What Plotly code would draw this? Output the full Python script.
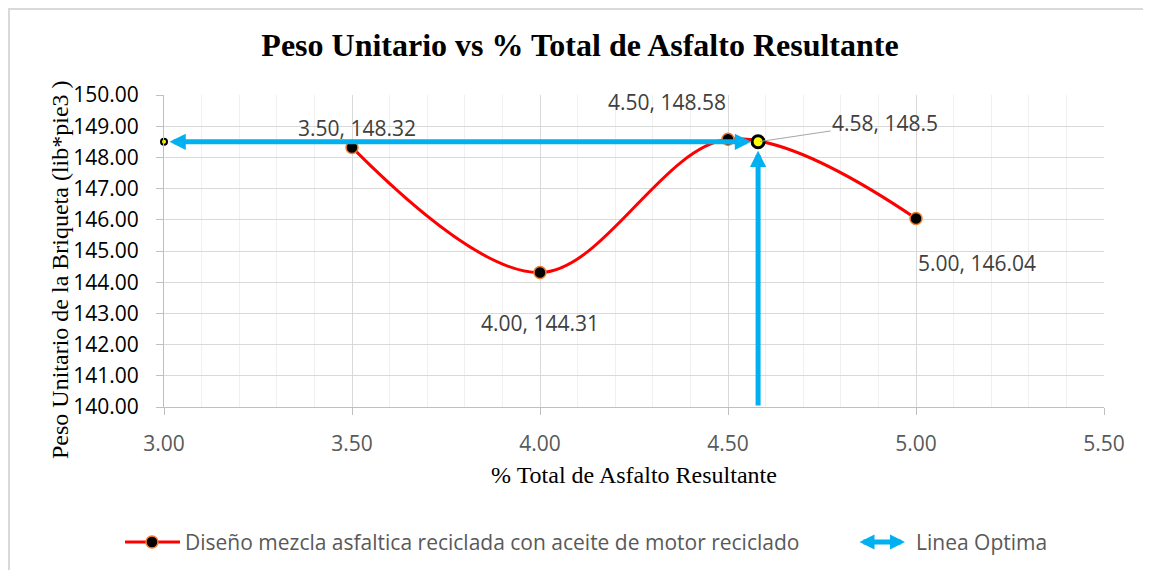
import plotly.graph_objects as go

# ---- data ----
asfalto_pct = [3.50, 4.00, 4.50, 5.00]
peso_unitario = [148.32, 144.31, 148.58, 146.04]
opt_x = 4.58
opt_y = 148.5
x_min, x_max = 3.00, 5.50
y_min, y_max = 140.00, 150.00
serie_name = "Diseño mezcla asfaltica reciclada con aceite de motor reciclado"
linea_name = "Linea Optima"
title_text = "Peso Unitario vs % Total de Asfalto Resultante"
x_title = "% Total de Asfalto Resultante"
y_title = "Peso Unitario de la Briqueta (lib*pie3 )"

# figure sits inside the page body (8px margin)
OFF = 8
W, H = 1151 - 2 * OFF, 578 - 2 * OFF
L, R, T, B = 164 - OFF, 1104 - OFF, 95 - OFF, 407 - OFF
def px(xp):  # page pixel -> paper
    return (xp - OFF - L) / (R - L)
def py(yp):
    return (B - (yp - OFF)) / (B - T)

BLUE = "#00B0F0"
LBL = "#404040"
SANS = "Open Sans"
SERIF = "Liberation Serif"

fig = go.Figure()

fig.add_trace(go.Scatter(
    x=asfalto_pct, y=peso_unitario, mode="lines+markers",
    line=dict(color="#FF0000", width=3, shape="spline", smoothing=1),
    marker=dict(size=12, color="black", line=dict(color="#ED7D31", width=1.5)),
    name=serie_name, showlegend=False, cliponaxis=False))

# optimum markers
fig.add_trace(go.Scatter(
    x=[x_min], y=[opt_y], mode="markers",
    marker=dict(size=6, color="#FFFF00", line=dict(color="black", width=2)),
    showlegend=False, cliponaxis=False))
fig.add_trace(go.Scatter(
    x=[opt_x], y=[opt_y], mode="markers",
    marker=dict(size=12, color="#FFFF00", line=dict(color="black", width=3)),
    name=linea_name, showlegend=False, cliponaxis=False))

annotations = []
# horizontal double arrow
annotations.append(dict(
    x=opt_x, y=opt_y, ax=x_min, ay=opt_y, xref="x", yref="y", axref="x", ayref="y",
    text="", showarrow=True, arrowside="end+start",
    arrowhead=2, arrowsize=0.65, startarrowhead=2, startarrowsize=0.65,
    arrowwidth=5, arrowcolor=BLUE, standoff=7, startstandoff=4))
# vertical arrow
annotations.append(dict(
    x=opt_x, y=opt_y, ax=opt_x, ay=y_min, xref="x", yref="y", axref="x", ayref="y",
    text="", showarrow=True, arrowside="end",
    arrowhead=2, arrowsize=0.65, arrowwidth=5, arrowcolor=BLUE, standoff=9))

# data labels
shifts = [(5, 19), (0, -50), (-61, 37), (61, -44)]
for xv, yv, (dx, dy) in zip(asfalto_pct, peso_unitario, shifts):
    annotations.append(dict(
        x=xv, y=yv, xref="x", yref="y", text=f"{xv:.2f}, {yv:.2f}",
        showarrow=False, xshift=dx, yshift=dy,
        font=dict(family=SANS, size=21, color=LBL)))
annotations.append(dict(
    x=opt_x, y=opt_y, xref="x", yref="y", text=f"{opt_x:.2f}, {opt_y:g}",
    showarrow=True, arrowhead=0, arrowwidth=1, arrowcolor="#A6A6A6",
    ax=127, ay=-19, standoff=2,
    font=dict(family=SANS, size=21, color=LBL)))

# y-axis title (as annotation for precise placement)
annotations.append(dict(
    x=px(60), y=py(270), xref="paper", yref="paper", xanchor="center", yanchor="middle",
    text=y_title, textangle=-90, showarrow=False,
    font=dict(family=SERIF, size=24, color="black")))

# manual legend
leg_y = py(542)
annotations.append(dict(
    x=px(183), y=leg_y, xref="paper", yref="paper", xanchor="left", yanchor="middle",
    text=serie_name, showarrow=False, font=dict(family=SANS, size=21, color="#595959")))
annotations.append(dict(
    x=px(905), y=leg_y, xref="paper", yref="paper", text="", showarrow=True,
    arrowside="end+start", ax=-47, ay=0, arrowhead=2, arrowsize=0.6,
    startarrowhead=2, startarrowsize=0.6, arrowwidth=5, arrowcolor=BLUE))
annotations.append(dict(
    x=px(914), y=leg_y, xref="paper", yref="paper", xanchor="left", yanchor="middle",
    text=linea_name, showarrow=False, font=dict(family=SANS, size=21, color="#595959")))

shapes = [
    dict(type="line", xref="paper", yref="paper", x0=px(OFF + 1), x1=px(OFF + 1), y0=py(700), y1=py(OFF),
         line=dict(color="#D9D9D9", width=2), layer="below"),
    dict(type="line", xref="paper", yref="paper", x0=px(OFF), x1=px(1200), y0=py(OFF + 1), y1=py(OFF + 1),
         line=dict(color="#D9D9D9", width=2), layer="below"),
    dict(type="line", xref="paper", yref="paper", x0=px(125), x1=px(180), y0=leg_y, y1=leg_y,
         line=dict(color="#FF0000", width=3)),
    dict(type="circle", xref="paper", yref="paper", xsizemode="pixel", ysizemode="pixel",
         xanchor=px(152), yanchor=leg_y, x0=-6, x1=6, y0=-6, y1=6,
         fillcolor="black", line=dict(color="#ED7D31", width=1.5)),
]

fig.update_layout(
    width=W, height=H,
    margin=dict(l=L, r=W - R, t=T, b=H - B),
    paper_bgcolor="white", plot_bgcolor="white",
    title=dict(text=f"<b>{title_text}</b>", x=(580 - OFF) / W, xanchor="center",
               y=1 - (45 - OFF) / H, yanchor="middle", yref="container",
               font=dict(family=SERIF, size=32, color="black")),
    annotations=annotations, shapes=shapes, showlegend=False,
    xaxis=dict(range=[x_min, x_max], dtick=0.5, tick0=3, tickformat=".2f",
               showgrid=True, gridcolor="#D9D9D9", gridwidth=1,
               minor=dict(dtick=0.1, showgrid=True, gridcolor="#F0F0F0", gridwidth=1),
               showline=True, linecolor="#BFBFBF", linewidth=1,
               ticks="outside", ticklen=7, tickcolor="#BFBFBF", ticklabelstandoff=11,
               tickfont=dict(family=SANS, size=21, color="#595959"),
               zeroline=False,
               title=dict(text=x_title, standoff=9,
                          font=dict(family=SERIF, size=24, color="black"))),
    yaxis=dict(range=[y_min, y_max], dtick=1, tickformat=".2f",
               showgrid=True, gridcolor="#D9D9D9", gridwidth=1,
               showline=True, linecolor="#BFBFBF", linewidth=1,
               ticks="outside", ticklen=7, tickcolor="#BFBFBF", ticklabelstandoff=13,
               tickfont=dict(family=SANS, size=21, color="black"),
               zeroline=False),
)

fig.write_html("out.html")
